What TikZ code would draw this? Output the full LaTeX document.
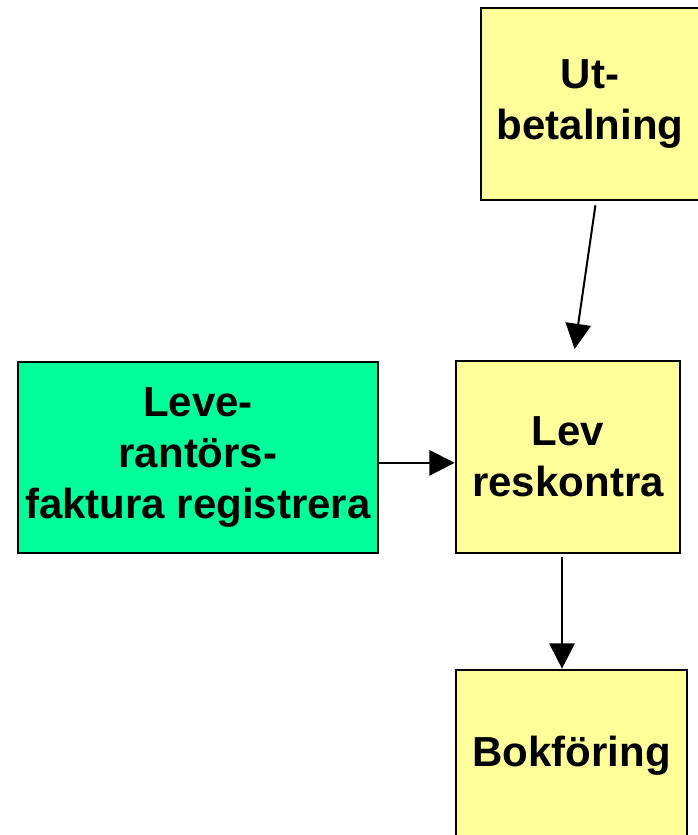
\documentclass[tikz,border=0pt]{standalone}
\usepackage{fontspec}
\setmainfont{Liberation Sans}
\usetikzlibrary{arrows.meta}
\definecolor{boxyellow}{HTML}{FFFF99}
\definecolor{boxgreen}{HTML}{00FF99}
\tikzset{
    box/.style={draw, line width=2pt, fill=boxyellow, align=center,
        font=\fontsize{31.5}{38}\selectfont\bfseries, inner sep=0pt},
    arr/.style={line width=1.5pt, -{Triangle[length=19pt,width=19pt]}}
}
\begin{document}
\begin{tikzpicture}[x=0.75pt,y=-0.75pt]
    \useasboundingbox (0,0) rectangle (698,835);
    \node[box, minimum width=218*0.75pt, minimum height=192*0.75pt] (ut) at (590,104) {Ut-\\betalning};
    \node[box, minimum width=224*0.75pt, minimum height=192*0.75pt] (lev) at (568,457) {Lev\\reskontra};
    \node[box, fill=boxgreen, minimum width=360*0.75pt, minimum height=191*0.75pt] (fakt) at (198,457.5) {Leve-\\rantörs-\\faktura registrera};
    \node[box, minimum width=231*0.75pt, minimum height=172*0.75pt] (bok) at (571.5,756) {Bokföring};
    \draw[arr, shorten <=3pt, shorten >=8pt] ([xshift=4.5pt]ut.south) -- ([xshift=3.8pt]lev.north);
    \draw[arr] ([yshift=-4pt]fakt.east) -- ([yshift=-4pt]fakt.east -| lev.west);
    \draw[arr, shorten <=2pt] ([xshift=-4.5pt]lev.south) -- ([xshift=-4.5pt]lev.south |- bok.north);
\end{tikzpicture}
\end{document}
